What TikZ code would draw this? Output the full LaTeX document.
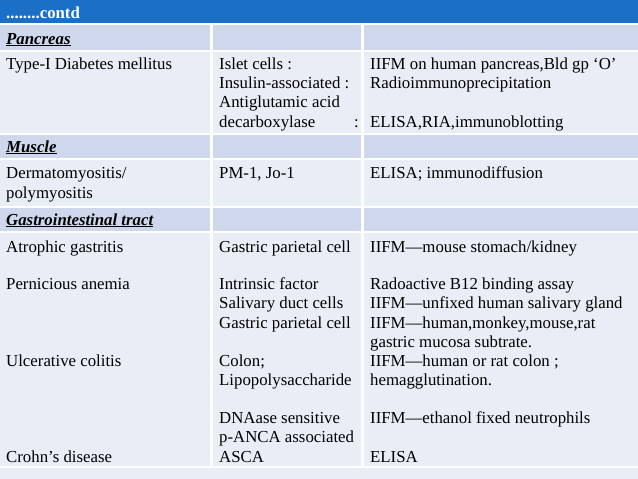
\documentclass[tikz,border=0pt]{standalone}
\usepackage{fontspec}
\setmainfont{Liberation Serif}
\definecolor{hdr}{HTML}{1C6FC6}
\definecolor{dk}{HTML}{CFD7EC}
\definecolor{lt}{HTML}{E9EDF6}
\newcounter{tn}
\newcommand{\T}[3]{\stepcounter{tn}\node[txt] (t\arabic{tn}) at (#1,#2) {#3};}
\newcommand{\Hd}[1]{\textbf{\textit{\underline{#1}}}}
\begin{document}
\begin{tikzpicture}[x=1pt,y=-1pt,
  txt/.style={anchor=base west,inner sep=0pt,font=\fontsize{16.8}{19}\selectfont}]
\useasboundingbox (0,0) rectangle (638,479);
\fill[white] (0,0) rectangle (638,479);
\fill[hdr] (0,0) rectangle (638,23);
% rows
\foreach \a/\b/\c in {25/50/dk,52/133/lt,135/158/dk,160/206/lt,208/231/dk,233/466/lt}{
  \fill[\c] (0,\a) rectangle (210,\b);
  \fill[\c] (213,\a) rectangle (361,\b);
  \fill[\c] (364,\a) rectangle (638,\b);
}
\fill[lt] (0,468) rectangle (638,479);
\stepcounter{tn}\node[txt,text=white,font=\bfseries\fontsize{16.8}{19}\selectfont] (h) at (6,18) {........contd};
\T{6}{44}{\Hd{Pancreas}}
\T{6}{69}{Type-I Diabetes mellitus}
\T{219}{69}{Islet cells :}
\T{219}{88}{Insulin-associated :}
\T{219}{107}{Antiglutamic acid}
\T{219}{127}{decarboxylase}
\T{354}{127}{:}
\T{370}{69}{IIFM on human pancreas,Bld gp ‘O’}
\T{370}{88}{Radioimmunoprecipitation}
\T{370}{127}{ELISA,RIA,immunoblotting}
\T{6}{152}{\Hd{Muscle}}
\T{6}{178}{Dermatomyositis/}
\T{6}{198}{polymyositis}
\T{219}{178}{PM-1, Jo-1}
\T{370}{178}{ELISA; immunodiffusion}
\T{6}{225}{\Hd{Gastrointestinal tract}}
\T{6}{252}{Atrophic gastritis}
\T{219}{252}{Gastric parietal cell}
\T{370}{252}{IIFM—mouse stomach/kidney}
\T{6}{289}{Pernicious anemia}
\T{219}{289}{Intrinsic factor}
\T{219}{308}{Salivary duct cells}
\T{219}{328}{Gastric parietal cell}
\T{370}{289}{Radoactive B12 binding assay}
\T{370}{308}{IIFM—unfixed human salivary gland}
\T{370}{328}{IIFM—human,monkey,mouse,rat}
\T{370}{347}{gastric mucosa subtrate.}
\T{6}{366}{Ulcerative colitis}
\T{219}{366}{Colon;}
\T{219}{385}{Lipopolysaccharide}
\T{370}{366}{IIFM—human or rat colon ;}
\T{370}{385}{hemagglutination.}
\T{219}{423}{DNAase sensitive}
\T{219}{442}{p-ANCA associated}
\T{370}{423}{IIFM—ethanol fixed neutrophils}
\T{6}{462}{Crohn’s disease}
\T{219}{462}{ASCA}
\T{370}{462}{ELISA}
\end{tikzpicture}
\end{document}
